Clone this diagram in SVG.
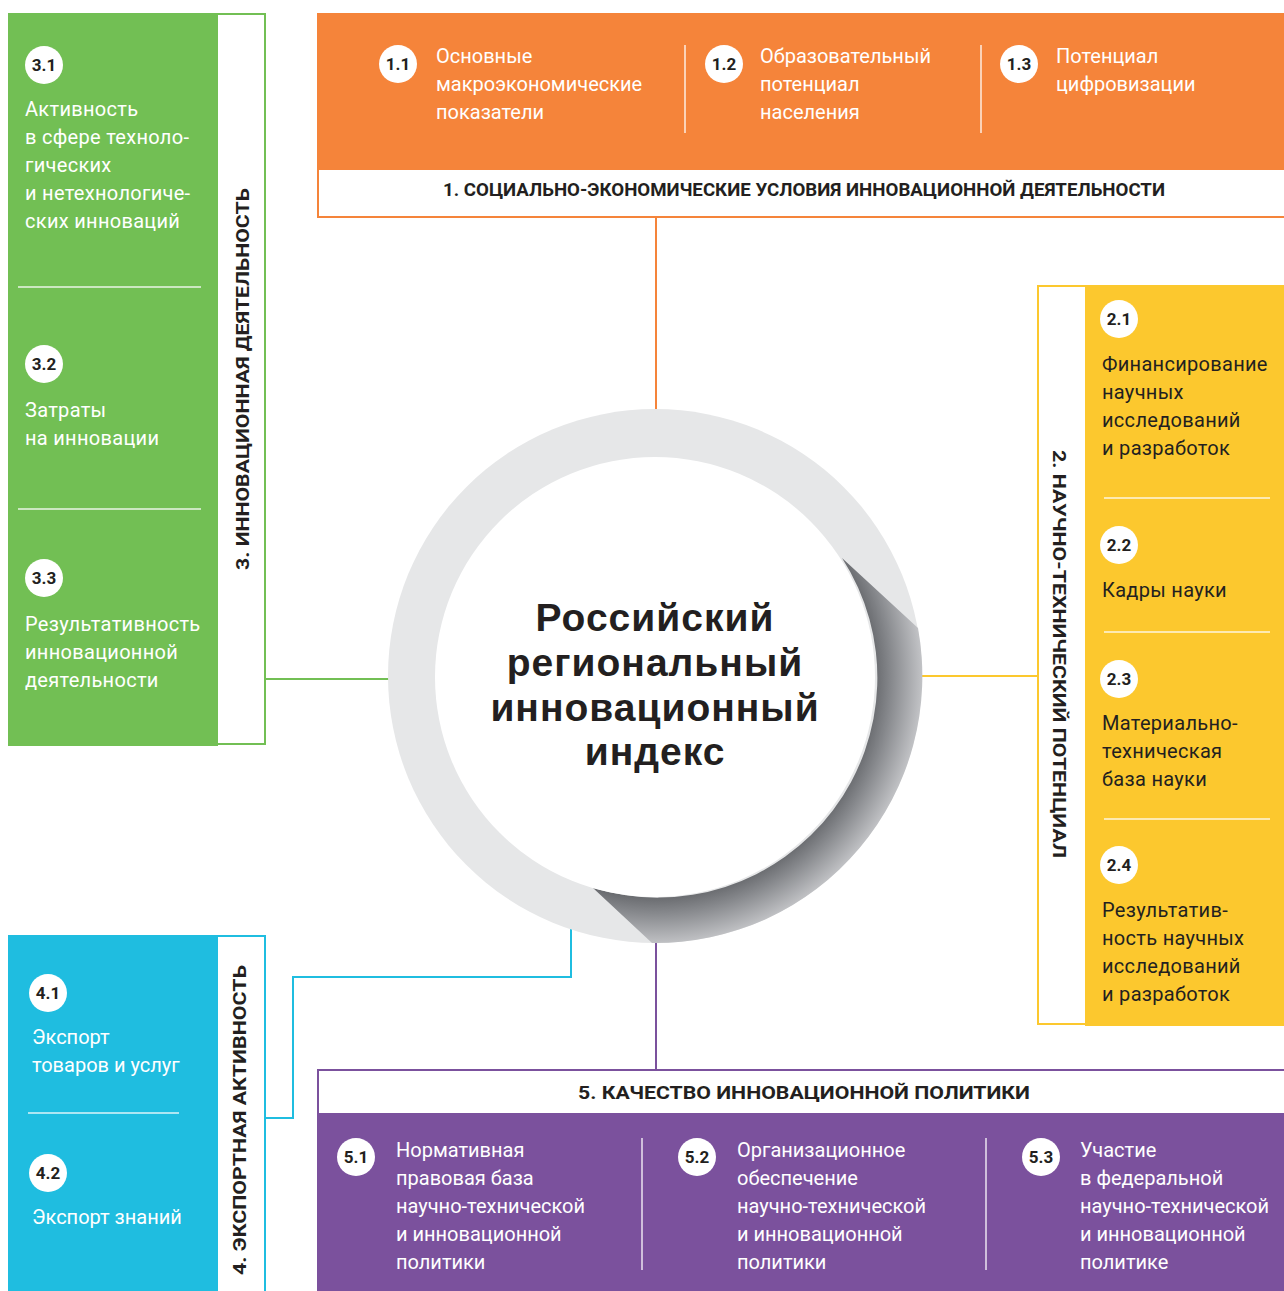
<svg xmlns="http://www.w3.org/2000/svg" width="1284" height="1291" viewBox="0 0 1284 1291">
<defs>
<style>
.cond{font-family:Roboto,"Liberation Sans",sans-serif;font-weight:400;font-size:20px;fill:#ffffff}
.wide{font-family:Roboto,"Liberation Sans",sans-serif;font-weight:400;font-size:20px;letter-spacing:0.3px}
.wideW{fill:#ffffff}
.wideD{fill:#231f20}
.badge{fill:#ffffff}
.bt{font-family:Roboto,"Liberation Sans",sans-serif;font-weight:700;font-size:17px;fill:#231f20;text-anchor:middle}
.head{font-family:Roboto,"Liberation Sans",sans-serif;font-weight:700;font-size:18px;fill:#231f20;text-anchor:middle}
.div{stroke:#ffffff;stroke-width:1.5;opacity:0.85}
.conn{fill:none;stroke-width:2}
.center{font-family:"Liberation Sans",Arial,sans-serif;font-weight:700;font-size:39px;fill:#231f20;text-anchor:middle;letter-spacing:1px}
</style>
<radialGradient id="shade" gradientUnits="userSpaceOnUse" cx="655" cy="677" r="268">
<stop offset="0.80" stop-color="#5f6165"/>
<stop offset="0.88" stop-color="#86888c"/>
<stop offset="1" stop-color="#c3c4c7"/>
</radialGradient>
</defs>
<rect width="1284" height="1291" fill="#ffffff"/>

<g id="connectors">
<line class="conn" stroke="#f5843a" x1="656" y1="217" x2="656" y2="412"/>
<line class="conn" stroke="#72bf54" x1="266" y1="679" x2="390" y2="679"/>
<line class="conn" stroke="#fcc82e" x1="921" y1="676" x2="1037" y2="676"/>
<line class="conn" stroke="#7b519d" x1="656" y1="941" x2="656" y2="1069"/>
<polyline class="conn" stroke="#1fbde0" points="266,1118 293,1118 293,977 571,977 571,928"/>
</g>

<g id="center-node">
<circle cx="655" cy="676" r="267" fill="#e6e7e8"/>
<path d="M842,558 L918,628 A267,267 0 0 1 652,943 L593,888 A220,220 0 0 0 842,558 Z" fill="url(#shade)"/>
<circle cx="655" cy="677" r="220" fill="#ffffff"/>
<text class="center" x="655" y="631">Российский</text>
<text class="center" x="655" y="676">региональный</text>
<text class="center" x="655" y="721">инновационный</text>
<text class="center" x="655" y="765">индекс</text>
</g>

<g id="node-1">
<rect x="318" y="14" width="970" height="203" fill="#ffffff" stroke="#f5843a" stroke-width="2"/>
<rect x="317" y="13" width="967" height="157" fill="#f5843a"/>
<line class="div" x1="685" y1="45" x2="685" y2="133"/>
<line class="div" x1="981" y1="45" x2="981" y2="133"/>
<circle class="badge" cx="398" cy="64" r="19"/>
<text class="bt" x="398" y="70">1.1</text>
<text class="cond" x="436" y="63"><tspan x="436">Основные</tspan><tspan x="436" dy="28">макроэкономические</tspan><tspan x="436" dy="28">показатели</tspan></text>
<circle class="badge" cx="724" cy="64" r="19"/>
<text class="bt" x="724" y="70">1.2</text>
<text class="cond" x="760" y="63"><tspan x="760">Образовательный</tspan><tspan x="760" dy="28">потенциал</tspan><tspan x="760" dy="28">населения</tspan></text>
<circle class="badge" cx="1019" cy="64" r="19"/>
<text class="bt" x="1019" y="70">1.3</text>
<text class="cond" x="1056" y="63"><tspan x="1056">Потенциал</tspan><tspan x="1056" dy="28">цифровизации</tspan></text>
<text class="head" x="804" y="196" textLength="722" lengthAdjust="spacingAndGlyphs">1. СОЦИАЛЬНО-ЭКОНОМИЧЕСКИЕ УСЛОВИЯ ИННОВАЦИОННОЙ ДЕЯТЕЛЬНОСТИ</text>
</g>

<g id="node-3">
<rect x="9" y="14" width="256" height="730" fill="#ffffff" stroke="#72bf54" stroke-width="2"/>
<rect x="8" y="13" width="210" height="733" fill="#72bf54"/>
<line class="div" x1="18" y1="287" x2="201" y2="287"/>
<line class="div" x1="18" y1="509" x2="201" y2="509"/>
<circle class="badge" cx="44" cy="65" r="19"/>
<text class="bt" x="44" y="71">3.1</text>
<text class="wide wideW" x="25" y="116"><tspan x="25">Активность</tspan><tspan x="25" dy="28">в сфере техноло-</tspan><tspan x="25" dy="28">гических</tspan><tspan x="25" dy="28">и нетехнологиче-</tspan><tspan x="25" dy="28">ских инноваций</tspan></text>
<circle class="badge" cx="44" cy="364" r="19"/>
<text class="bt" x="44" y="370">3.2</text>
<text class="wide wideW" x="25" y="417"><tspan x="25">Затраты</tspan><tspan x="25" dy="28">на инновации</tspan></text>
<circle class="badge" cx="44" cy="578" r="19"/>
<text class="bt" x="44" y="584">3.3</text>
<text class="wide wideW" x="25" y="631"><tspan x="25">Результативность</tspan><tspan x="25" dy="28">инновационной</tspan><tspan x="25" dy="28">деятельности</tspan></text>
<text class="head" transform="translate(249,379) rotate(-90)" textLength="382" lengthAdjust="spacingAndGlyphs">3. ИННОВАЦИОННАЯ ДЕЯТЕЛЬНОСТЬ</text>
</g>

<g id="node-2">
<rect x="1038" y="286" width="250" height="738" fill="#ffffff" stroke="#fcc82e" stroke-width="2"/>
<rect x="1085" y="285" width="199" height="741" fill="#fcc82e"/>
<line class="div" x1="1104" y1="498" x2="1270" y2="498"/>
<line class="div" x1="1104" y1="632" x2="1270" y2="632"/>
<line class="div" x1="1104" y1="819" x2="1270" y2="819"/>
<circle class="badge" cx="1119" cy="319" r="19"/>
<text class="bt" x="1119" y="325">2.1</text>
<text class="wide wideD" x="1102" y="371"><tspan x="1102">Финансирование</tspan><tspan x="1102" dy="28">научных</tspan><tspan x="1102" dy="28">исследований</tspan><tspan x="1102" dy="28">и разработок</tspan></text>
<circle class="badge" cx="1119" cy="545" r="19"/>
<text class="bt" x="1119" y="551">2.2</text>
<text class="wide wideD" x="1102" y="597">Кадры науки</text>
<circle class="badge" cx="1119" cy="679" r="19"/>
<text class="bt" x="1119" y="685">2.3</text>
<text class="wide wideD" x="1102" y="730"><tspan x="1102">Материально-</tspan><tspan x="1102" dy="28">техническая</tspan><tspan x="1102" dy="28">база науки</tspan></text>
<circle class="badge" cx="1119" cy="865" r="19"/>
<text class="bt" x="1119" y="871">2.4</text>
<text class="wide wideD" x="1102" y="917"><tspan x="1102">Результатив-</tspan><tspan x="1102" dy="28">ность научных</tspan><tspan x="1102" dy="28">исследований</tspan><tspan x="1102" dy="28">и разработок</tspan></text>
<text class="head" transform="translate(1053,654) rotate(90)" textLength="408" lengthAdjust="spacingAndGlyphs">2. НАУЧНО-ТЕХНИЧЕСКИЙ ПОТЕНЦИАЛ</text>
</g>

<g id="node-4">
<rect x="9" y="936" width="256" height="360" fill="#ffffff" stroke="#1fbde0" stroke-width="2"/>
<rect x="8" y="935" width="210" height="356" fill="#1fbde0"/>
<line class="div" x1="28" y1="1113" x2="179" y2="1113"/>
<circle class="badge" cx="48" cy="993" r="19"/>
<text class="bt" x="48" y="999">4.1</text>
<text class="cond" x="32" y="1044"><tspan x="32">Экспорт</tspan><tspan x="32" dy="28">товаров и услуг</tspan></text>
<circle class="badge" cx="48" cy="1173" r="19"/>
<text class="bt" x="48" y="1179">4.2</text>
<text class="cond" x="32" y="1224">Экспорт знаний</text>
<text class="head" transform="translate(246,1120) rotate(-90)" textLength="310" lengthAdjust="spacingAndGlyphs">4. ЭКСПОРТНАЯ АКТИВНОСТЬ</text>
</g>

<g id="node-5">
<rect x="318" y="1070" width="970" height="230" fill="#ffffff" stroke="#7b519d" stroke-width="2"/>
<rect x="317" y="1113" width="967" height="178" fill="#7b519d"/>
<line class="div" x1="642" y1="1138" x2="642" y2="1270"/>
<line class="div" x1="986" y1="1138" x2="986" y2="1270"/>
<text class="head" x="804" y="1099" textLength="452" lengthAdjust="spacingAndGlyphs">5. КАЧЕСТВО ИННОВАЦИОННОЙ ПОЛИТИКИ</text>
<circle class="badge" cx="356" cy="1157" r="19"/>
<text class="bt" x="356" y="1163">5.1</text>
<text class="cond" x="396" y="1157"><tspan x="396">Нормативная</tspan><tspan x="396" dy="28">правовая база</tspan><tspan x="396" dy="28">научно-технической</tspan><tspan x="396" dy="28">и инновационной</tspan><tspan x="396" dy="28">политики</tspan></text>
<circle class="badge" cx="697" cy="1157" r="19"/>
<text class="bt" x="697" y="1163">5.2</text>
<text class="cond" x="737" y="1157"><tspan x="737">Организационное</tspan><tspan x="737" dy="28">обеспечение</tspan><tspan x="737" dy="28">научно-технической</tspan><tspan x="737" dy="28">и инновационной</tspan><tspan x="737" dy="28">политики</tspan></text>
<circle class="badge" cx="1041" cy="1157" r="19"/>
<text class="bt" x="1041" y="1163">5.3</text>
<text class="cond" x="1080" y="1157"><tspan x="1080">Участие</tspan><tspan x="1080" dy="28">в федеральной</tspan><tspan x="1080" dy="28">научно-технической</tspan><tspan x="1080" dy="28">и инновационной</tspan><tspan x="1080" dy="28">политике</tspan></text>
</g>
</svg>
